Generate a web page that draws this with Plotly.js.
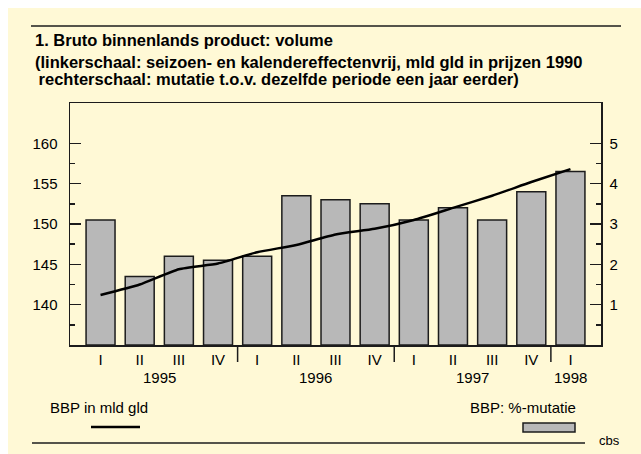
<!DOCTYPE html>
<html>
<head>
<meta charset="utf-8">
<script src="https://cdn.plot.ly/plotly-3.0.1.min.js"></script>
<style>
html,body{margin:0;padding:0;background:#ffffff;width:641px;height:454px;overflow:hidden;}
#chart{position:absolute;left:8px;top:8px;width:633px;height:446px;}
</style>
</head>
<body>
<div id="chart"></div>
<script>
// ---- data ----
var quarters = ["I","II","III","IV","I","II","III","IV","I","II","III","IV","I"];
var years = ["1995","1996","1997","1998"];
var yearPos = [1.5, 5.5, 9.5, 12];
var mutatie = [3.1,1.7,2.2,2.1,2.2,3.7,3.6,3.5,3.1,3.4,3.1,3.8,4.3];   // % mutatie (right scale)
var bbp = [141.2,142.5,144.4,145.1,146.5,147.4,148.7,149.4,150.5,152.0,153.5,155.2,156.8]; // mld gld (left scale)
var leftTicks = [140,145,150,155,160];
var rightTicks = [1,2,3,4,5];
var titleLines = [
  "1. Bruto binnenlands product: volume",
  "(linkerschaal: seizoen- en kalendereffectenvrij, mld gld in prijzen 1990",
  " rechterschaal: mutatie t.o.v. dezelfde periode een jaar eerder)"
];

var xIdx = quarters.map(function(_, i){ return i; });

// layout helpers (page pixel -> paper fraction)
var L = 62, R = 40, T = 95, B = 109, W = 633, H = 446;
var pw = W - L - R, ph = H - T - B;
function px(x){ return (x - 8 - L) / pw; }
function py(y){ return (H - B - (y - 8)) / ph; }

var font = "Liberation Sans, Arial, sans-serif";
var dark = "#1c1c1c";
var cream = "#fff9d6";

var traces = [
  {
    type: "bar", x: xIdx, y: mutatie, yaxis: "y", width: 0.74,
    marker: {color: "#b8b8b8", line: {color: dark, width: 1.5}},
    hoverinfo: "skip"
  },
  {
    type: "scatter", mode: "lines", x: xIdx, y: bbp, yaxis: "y2",
    line: {color: "#000000", width: 2.5, shape: "spline", smoothing: 0.5},
    hoverinfo: "skip"
  }
];

var annotations = [];
var tlY = [40, 62, 79];
titleLines.forEach(function(t, i){
  annotations.push({text: "<b>" + t + "</b>", xref: "paper", yref: "paper",
    x: px(i === 2 ? 32 : 33), y: py(tlY[i]), xanchor: "left", yanchor: "middle",
    showarrow: false, font: {family: font, size: 16.5, color: "#000"}});
});
years.forEach(function(yr, i){
  annotations.push({text: yr, xref: "x", yref: "paper", x: yearPos[i], y: py(378),
    xanchor: "center", yanchor: "middle", showarrow: false,
    font: {family: font, size: 15, color: "#000"}});
});
annotations.push({text: "BBP in mld gld", xref: "paper", yref: "paper", x: px(48), y: py(407),
  xanchor: "left", yanchor: "middle", showarrow: false, font: {family: font, size: 15, color: "#000"}});
annotations.push({text: "BBP: %-mutatie", xref: "paper", yref: "paper", x: px(578), y: py(407),
  xanchor: "right", yanchor: "middle", showarrow: false, font: {family: font, size: 15, color: "#000"}});
annotations.push({text: "cbs", xref: "paper", yref: "paper", x: px(597), y: py(440),
  xanchor: "left", yanchor: "middle", showarrow: false, font: {family: font, size: 13, color: "#000"}});

var shapes = [
  {type: "line", xref: "paper", yref: "paper", x0: px(31), x1: px(621), y0: py(26), y1: py(26),
   line: {color: dark, width: 1.5}},
  {type: "line", xref: "paper", yref: "paper", x0: px(32), x1: px(585), y0: py(443), y1: py(443),
   line: {color: dark, width: 1.5}},
  {type: "line", xref: "paper", yref: "paper", x0: px(91), x1: px(140), y0: py(427), y1: py(427),
   line: {color: "#000", width: 2.5}},
  {type: "rect", xref: "paper", yref: "paper", x0: px(523), x1: px(575), y0: py(432), y1: py(423),
   fillcolor: "#b8b8b8", line: {color: dark, width: 1.5}}
];
[3.5, 7.5, 11.5].forEach(function(s){
  shapes.push({type: "line", xref: "x", yref: "paper", x0: s, x1: s, y0: py(345), y1: py(362),
    line: {color: dark, width: 1.5}});
});

var layout = {
  width: W, height: H,
  paper_bgcolor: cream, plot_bgcolor: cream,
  margin: {l: L, r: R, t: T, b: B, pad: 0},
  showlegend: false,
  font: {family: font, size: 15, color: "#000"},
  xaxis: {
    range: [-0.78, 12.78], tickmode: "array", tickvals: xIdx, ticktext: quarters,
    ticks: "", showgrid: false, zeroline: false, showline: true, mirror: true,
    linecolor: dark, linewidth: 1.5, tickfont: {family: font, size: 15, color: "#000"}
  },
  yaxis: {
    side: "right", range: [0, 6], tickmode: "array", tickvals: rightTicks,
    ticks: "inside", ticklen: 11, tickwidth: 1.5, tickcolor: dark, ticklabelstandoff: 4,
    minor: {tickvals: [0.5,1.5,2.5,3.5,4.5], ticks: "inside", ticklen: 5, tickwidth: 1.5, tickcolor: dark},
    showgrid: false, zeroline: false, showline: true, linecolor: dark, linewidth: 1.5,
    tickfont: {family: font, size: 15, color: "#000"}
  },
  yaxis2: {
    overlaying: "y", side: "left", range: [135, 165], tickmode: "array", tickvals: leftTicks,
    ticks: "inside", ticklen: 11, tickwidth: 1.5, tickcolor: dark, ticklabelstandoff: 8,
    minor: {tickvals: [137.5,142.5,147.5,152.5,157.5], ticks: "inside", ticklen: 5, tickwidth: 1.5, tickcolor: dark},
    showgrid: false, zeroline: false, showline: true, linecolor: dark, linewidth: 1.5,
    tickfont: {family: font, size: 15, color: "#000"}
  },
  annotations: annotations,
  shapes: shapes
};

Plotly.newPlot("chart", traces, layout, {displayModeBar: false, staticPlot: true});
</script>
</body>
</html>
